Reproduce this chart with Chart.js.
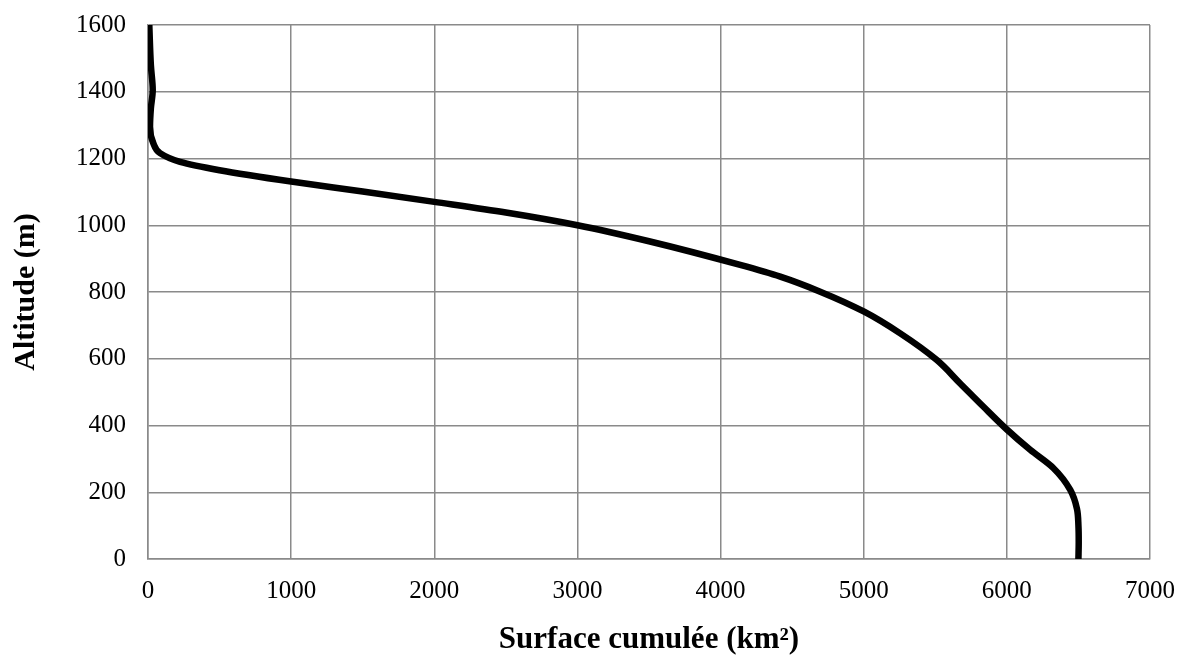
<!DOCTYPE html>
<html>
<head>
<meta charset="utf-8">
<script src="https://cdn.jsdelivr.net/npm/chart.js@4/dist/chart.umd.min.js"></script>
<style>
  html, body { margin: 0; padding: 0; background: #fff; }
  #wrap { width: 1184px; height: 659px; position: relative; }
</style>
</head>
<body>
<div id="wrap"><canvas id="hypso"></canvas></div>
<script>
// Hypsometric curve: cumulated surface (km²) vs altitude (m)
const surfaceKm2 = [6500, 6502, 6500, 6490, 6443, 6326, 6163, 6000, 5837, 5674, 5511, 5255, 5003, 4696, 4417, 4137, 3500, 3000, 2500, 2000, 1500, 1000, 500, 224, 84, 37, 14, 20, 33, 20, 9];
const altitudeM  = [0, 50, 100, 150, 207, 272, 327, 388, 456, 526, 596, 676, 741, 801, 846, 881, 952, 1000, 1038, 1070, 1101, 1131, 1165, 1190, 1216, 1246, 1295, 1350, 1405, 1480, 1600];
const xTicks = [0, 1000, 2000, 3000, 4000, 5000, 6000, 7000];
const yTicks = [0, 200, 400, 600, 800, 1000, 1200, 1400, 1600];

const points = surfaceKm2.map((s, i) => ({ x: s, y: altitudeM[i] }));
const gridColor = '#8a8a8a';
const serif = "'Liberation Serif', 'Times New Roman', serif";

document.addEventListener('DOMContentLoaded', () => {
    new Chart(document.getElementById('hypso'), {
        type: 'scatter',
        data: {
            datasets: [{
                data: points,
                indexAxis: 'y', // altitude rises steadily, so smooth along y
                showLine: true,
                borderColor: '#000',
                borderWidth: 6.5,
                pointRadius: 0,
                cubicInterpolationMode: 'monotone',
                borderJoinStyle: 'round'
            }]
        },
        options: {
            responsive: true,
            maintainAspectRatio: false,
            animation: false,
            layout: { padding: { left: 0, right: 34, top: 25, bottom: 0 } },
            plugins: { legend: { display: false }, tooltip: { enabled: false } },
            scales: {
                x: {
                    type: 'linear',
                    min: xTicks[0],
                    max: xTicks[xTicks.length - 1],
                    afterBuildTicks: axis => { axis.ticks = xTicks.map(v => ({ value: v })); },
                    afterFit: axis => { axis.height = 100; axis.paddingLeft = 0; axis.paddingRight = 0; },
                    grid: { color: gridColor, lineWidth: 1.5, drawTicks: false },
                    border: { color: gridColor, width: 1.5 },
                    ticks: { color: '#000', padding: 17, maxRotation: 0, font: { family: serif, size: 25 }, callback: v => String(v) },
                    title: {
                        display: true,
                        text: 'Surface cumulée (km²)',
                        color: '#000',
                        padding: { top: 0, bottom: 0 },
                        font: { family: serif, size: 31, weight: 'bold' }
                    }
                },
                y: {
                    type: 'linear',
                    min: yTicks[0],
                    max: yTicks[yTicks.length - 1],
                    afterBuildTicks: axis => { axis.ticks = yTicks.map(v => ({ value: v })); },
                    afterFit: axis => { axis.width = 148; axis.paddingTop = 0; axis.paddingBottom = 0; },
                    grid: { color: gridColor, lineWidth: 1.5, drawTicks: false },
                    border: { color: gridColor, width: 1.5 },
                    ticks: { color: '#000', padding: 22, font: { family: serif, size: 25 }, callback: v => String(v) },
                    title: {
                        display: true,
                        text: 'Altitude (m)',
                        color: '#000',
                        padding: { top: 8, bottom: 0 },
                        font: { family: serif, size: 30, weight: 'bold' }
                    }
                }
            }
        }
    });
});
</script>
</body>
</html>
